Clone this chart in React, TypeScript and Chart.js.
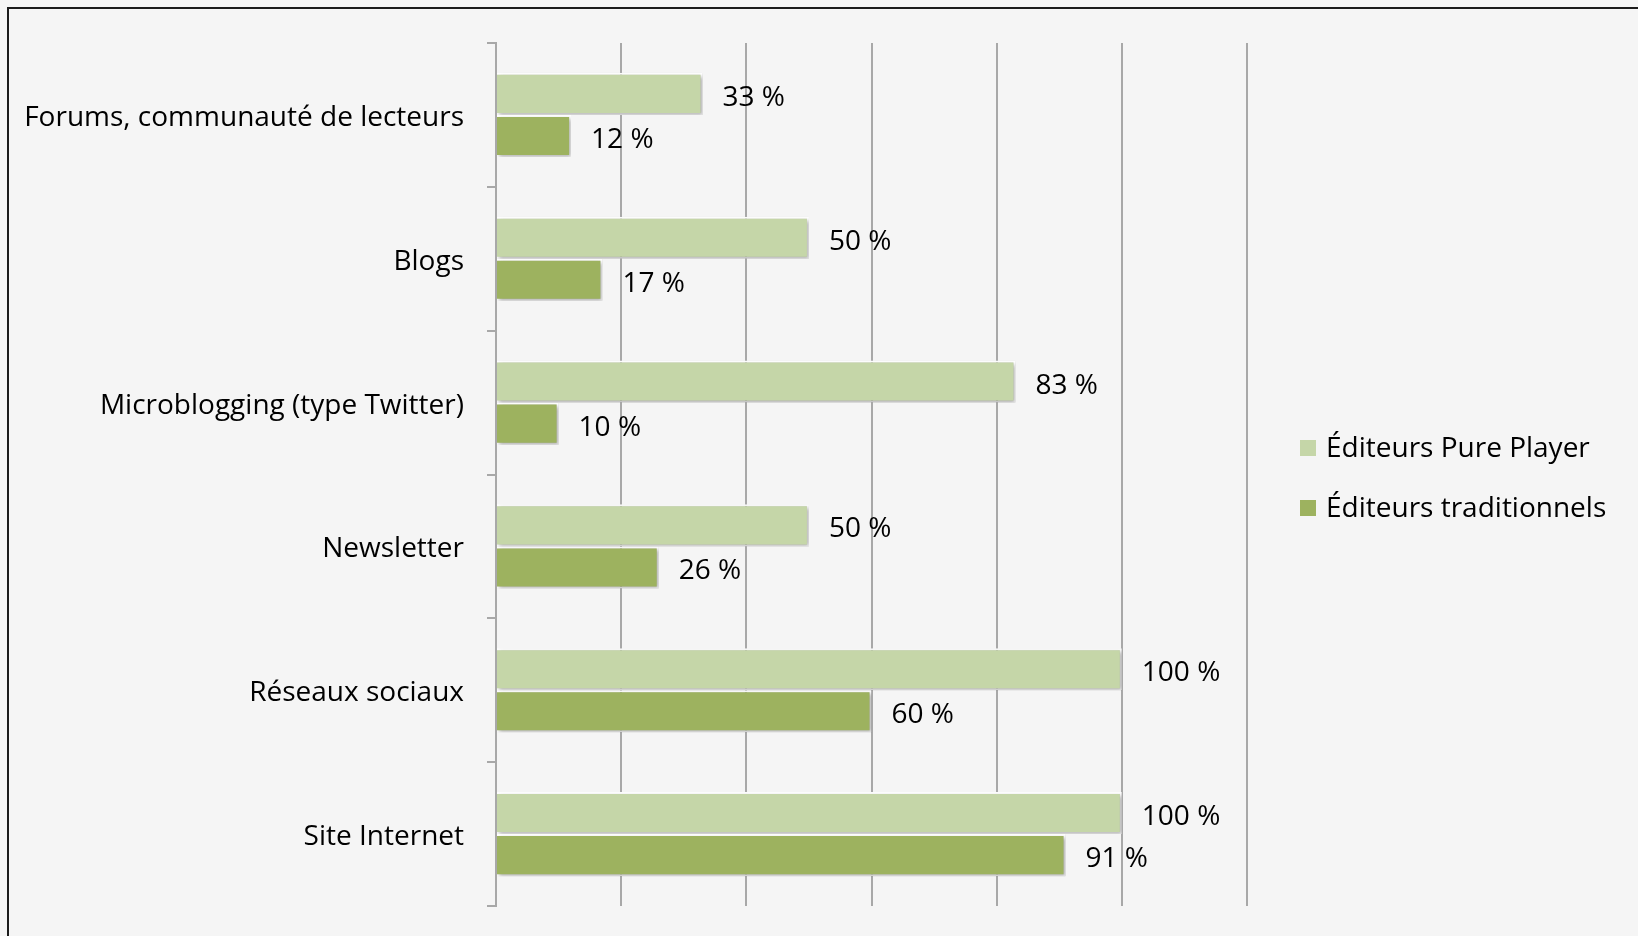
import React, { useEffect, useRef } from "react";
import { Chart, registerables } from "chart.js";

Chart.register(...registerables);

const categories = [
  "Forums, communauté de lecteurs",
  "Blogs",
  "Microblogging (type Twitter)",
  "Newsletter",
  "Réseaux sociaux",
  "Site Internet",
];
const seriesNames = ["Éditeurs Pure Player", "Éditeurs traditionnels"];
const purePlayer = [33, 50, 83, 50, 100, 100];
const traditionnels = [12, 17, 10, 26, 60, 91];
const xTicks = [0, 20, 40, 60, 80, 100, 120];

const FONT = "'Open Sans', 'DejaVu Sans', sans-serif";
const LIGHT = "#c5d6a8";
const DARK = "#9db25f";
const GRID = "#a8a8a8";

const shadowPlugin = {
  id: "barShadow",
  beforeDatasetsDraw(chart: any) {
    const ctx = chart.ctx;
    ctx.save();
    ctx.shadowColor = "rgba(0,0,0,0.30)";
    ctx.shadowBlur = 4;
    ctx.shadowOffsetX = 2;
    ctx.shadowOffsetY = 2;
  },
  afterDatasetsDraw(chart: any) {
    chart.ctx.restore();
  },
};

const labelPlugin = {
  id: "valueLabels",
  afterDatasetsDraw(chart: any) {
    const ctx = chart.ctx;
    ctx.save();
    ctx.font = `28px ${FONT}`;
    ctx.fillStyle = "#000";
    ctx.textBaseline = "middle";
    ctx.textAlign = "left";
    chart.data.datasets.forEach((ds: any, di: number) => {
      const meta = chart.getDatasetMeta(di);
      meta.data.forEach((bar: any, i: number) => {
        ctx.fillText(`${ds.data[i]} %`, bar.x + 20, bar.y + 4);
      });
    });
    ctx.restore();
  },
};

const legendPlugin = {
  id: "customLegend",
  afterDraw(chart: any) {
    const ctx = chart.ctx;
    ctx.save();
    ctx.font = `28px ${FONT}`;
    ctx.textBaseline = "middle";
    ctx.textAlign = "left";
    const x = 1300;
    const ys = [448, 508];
    chart.data.datasets.forEach((ds: any, di: number) => {
      const y = ys[di];
      ctx.fillStyle = ds.backgroundColor;
      ctx.fillRect(x, y - 8, 16, 16);
      ctx.fillStyle = "#000";
      ctx.fillText(ds.label, x + 26, y + 1);
    });
    ctx.restore();
  },
};

export default function App() {
  const canvasRef = useRef<HTMLCanvasElement | null>(null);

  useEffect(() => {
    document.body.style.margin = "0";
    document.body.style.overflow = "hidden";
    const canvas = canvasRef.current;
    if (!canvas) return;
    const chart = new Chart(canvas, {
      type: "bar",
      data: {
        labels: categories,
        datasets: [
          {
            label: seriesNames[0],
            data: purePlayer,
            backgroundColor: LIGHT,
            borderColor: "#ffffff",
            borderWidth: 2,
            categoryPercentage: 0.585,
            barPercentage: 1.0,
          },
          {
            label: seriesNames[1],
            data: traditionnels,
            backgroundColor: DARK,
            borderColor: "#ffffff",
            borderWidth: 2,
            categoryPercentage: 0.585,
            barPercentage: 1.0,
          },
        ],
      },
      options: {
        indexAxis: "y",
        animation: false,
        responsive: false,
        devicePixelRatio: 1,
        layout: { padding: { top: 43, bottom: 30, right: 391, left: 0 } },
        plugins: {
          legend: { display: false },
          tooltip: { enabled: false },
        },
        scales: {
          x: {
            min: 0,
            max: 120,
            afterBuildTicks(scale: any) {
              scale.ticks = xTicks.map((v) => ({ value: v }));
            },
            afterFit(scale: any) {
              scale.height = 0;
              scale.paddingLeft = 0;
              scale.paddingRight = 0;
            },
            ticks: { display: false },
            grid: { color: GRID, lineWidth: 2, drawTicks: false },
            border: { display: false },
          },
          y: {
            afterFit(scale: any) {
              scale.width = 496;
              scale.paddingTop = 0;
              scale.paddingBottom = 0;
            },
            ticks: {
              color: "#000",
              padding: 23,
              labelOffset: 3,
              font: { family: FONT, size: 28 },
            },
            grid: {
              drawOnChartArea: false,
              drawTicks: true,
              tickLength: 9,
              color: GRID,
              lineWidth: 2,
              offset: true,
            },
            border: { display: true, color: GRID, width: 2 },
          },
        },
      },
      plugins: [shadowPlugin, labelPlugin, legendPlugin],
    });
    return () => chart.destroy();
  }, []);

  return (
    <div
      style={{
        position: "fixed",
        left: 0,
        top: 0,
        width: 1638,
        height: 936,
        background: "#f5f5f5",
        overflow: "hidden",
      }}
    >
      <div
        style={{
          position: "absolute",
          left: 7,
          top: 7,
          width: 1700,
          height: 1000,
          border: "2px solid #1c1c1c",
        }}
      />
      <canvas
        ref={canvasRef}
        width={1638}
        height={936}
        style={{ position: "absolute", left: 0, top: 0, display: "block" }}
      />
    </div>
  );
}
